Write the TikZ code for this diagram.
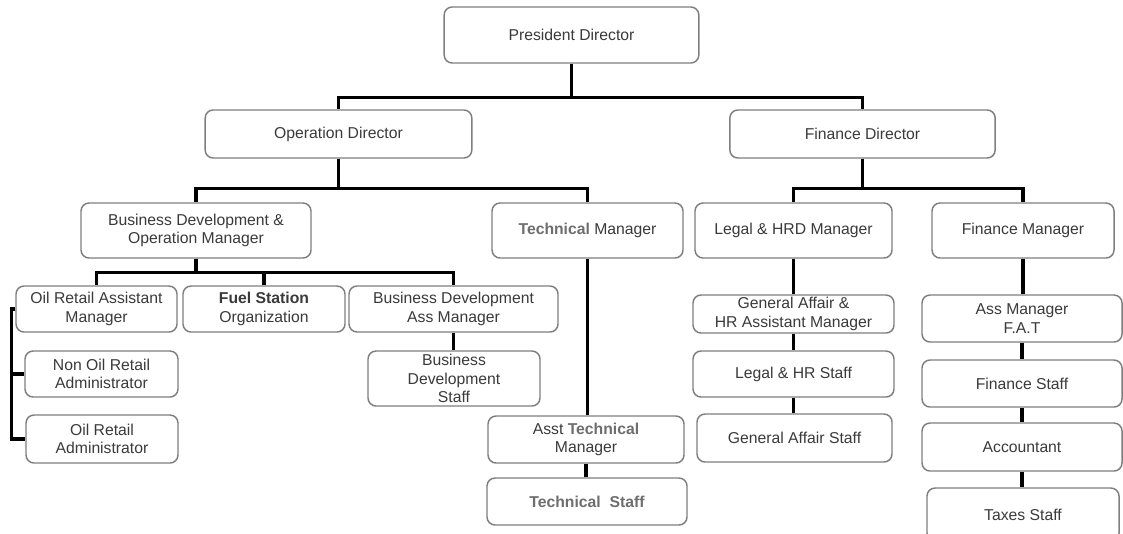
\documentclass[tikz,border=0pt]{standalone}
\usepackage{fontspec}
\setmainfont{Liberation Sans}
\usepackage{xcolor}
\definecolor{boxline}{HTML}{7F7F7F}
\definecolor{txt}{HTML}{3A3A3A}
\definecolor{boldgrey}{HTML}{6E6E6E}

\begin{document}
\begin{tikzpicture}[x=0.75pt,y=-0.75pt,font=\fontsize{11.8}{13.7}\selectfont,text=txt,unit/.style={rounded corners=6pt,draw=boxline,line width=1.1pt,fill=white,align=center,inner sep=1pt,minimum width=#1,minimum height=34.5pt},link/.style={line width=2.3pt,black}]
\useasboundingbox (0,0) rectangle (1123,533);
% top levels
\node[unit=191pt,minimum height=42pt] (pres) at (571.5,35) {President Director};
\node[unit=200pt,minimum height=36pt] (opdir) at (338.5,134) {Operation Director};
\node[unit=199pt,minimum height=36pt] (findir) at (862.5,134) {Finance Director};
\node[unit=172.5pt,minimum height=41.25pt] (bdop) at (196,230.5) {Business Development \&\\Operation Manager};
\node[unit=143.25pt,minimum height=41.25pt] (techmgr) at (587.5,230.5) {\textcolor{boldgrey}{\textbf{Technical}} Manager};
\node[unit=147.75pt,minimum height=41.25pt] (legal) at (793.5,230.5) {Legal \& HRD Manager};
\node[unit=136.5pt,minimum height=41.25pt] (finmgr) at (1023,230.5) {Finance Manager};
% operation side
\node[unit=120.75pt] (oram) at (96.5,309) {Oil Retail Assistant\\Manager};
\node[unit=121.5pt] (fuel) at (264,309) {\textbf{Fuel Station}\\Organization};
\node[unit=156.75pt] (bdam) at (453.5,309) {Business Development\\Ass Manager};
\node[unit=129pt,minimum height=41.25pt,inner sep=0pt] (bdstaff) at (454,378.5) {Business\\Development\\Staff};
\node[unit=114.75pt] (nonoil) at (101.5,374) {Non Oil Retail\\Administrator};
\node[unit=114pt,minimum height=36pt] (oiladm) at (102,439) {Oil Retail\\Administrator};
\node[unit=147pt,minimum height=35.25pt] (asst) at (586,439.5) {Asst \textcolor{boldgrey}{\textbf{Technical}}\\Manager};
\node[unit=150pt,minimum height=35.25pt] (techstaff) at (587,501.5) {\textcolor{boldgrey}{\textbf{Technical\ \ Staff}}};
% finance side
\node[unit=150.75pt,minimum height=28.5pt,inner sep=0pt] (gahr) at (793.5,314) {General Affair \&\\HR Assistant Manager};
\node[unit=150.75pt] (lhrstaff) at (793.5,374) {Legal \& HR Staff};
\node[unit=146.25pt,minimum height=36pt] (gastaff) at (794.5,438) {General Affair Staff};
\node[unit=150pt,minimum height=35.25pt] (assfat) at (1022,318.5) {Ass Manager\\F.A.T};
\node[unit=150pt,minimum height=35.25pt] (finstaff) at (1022,383.5) {Finance Staff};
\node[unit=150pt,minimum height=36pt] (accountant) at (1022,447) {Accountant};
\node[unit=144pt,minimum height=39.75pt] (taxes) at (1023,514.5) {Taxes Staff};
% links
\draw[link] (pres.south) -- ++(0,34) -| (opdir.north);
\draw[link] (pres.south) -- ++(0,34) -| (findir.north);
\draw[link] (opdir.south) -- ++(0,30) -| (bdop.north);
\draw[link] (opdir.south) -- ++(0,30) -| (techmgr.north);
\draw[link] (findir.south) -- ++(0,30) -| (legal.north);
\draw[link] (findir.south) -- ++(0,30) -| (finmgr.north);
\draw[link] (bdop.south) -- ++(0,14) -| (oram.north);
\draw[link] (bdop.south) -- ++(0,14) -| (fuel.north);
\draw[link] (bdop.south) -- ++(0,14) -| (bdam.north);
\draw[link] (bdam.south) -- (bdam.south|-bdstaff.north);
\draw[link] (oram.west) -- ++(-4,0) |- (nonoil.west);
\draw[link] (oram.west) -- ++(-4,0) |- (oiladm.west);
\draw[link] (techmgr.south) -- (techmgr.south|-asst.north);\draw[link] (asst.south) -- (asst.south|-techstaff.north);
\draw[link] (legal.south) -- (legal.south|-gahr.north);\draw[link] (gahr.south) -- (gahr.south|-lhrstaff.north);\draw[link] (lhrstaff.south) -- (lhrstaff.south|-gastaff.north);
\draw[link] (finmgr.south) -- (finmgr.south|-assfat.north);\draw[link] (assfat.south) -- (assfat.south|-finstaff.north);\draw[link] (finstaff.south) -- (finstaff.south|-accountant.north);\draw[link] (accountant.south) -- (accountant.south|-taxes.north);
\end{tikzpicture}
\end{document}
